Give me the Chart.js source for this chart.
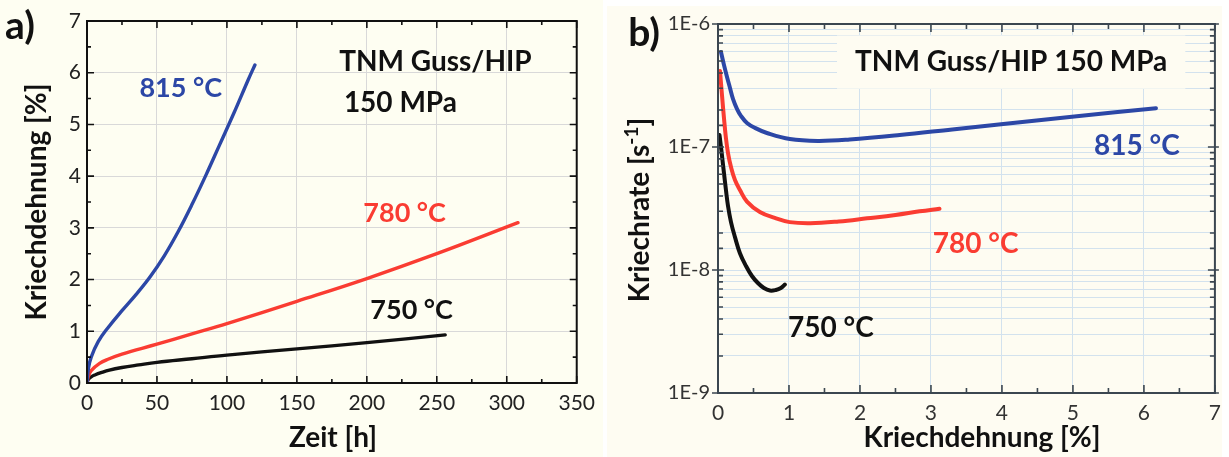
<!DOCTYPE html>
<html>
<head>
<meta charset="utf-8">
<script src="https://cdn.jsdelivr.net/npm/chart.js@4.4.1/dist/chart.umd.min.js"></script>
<style>
  html, body { margin: 0; padding: 0; background: #ffffff; width: 1229px; height: 457px; overflow: hidden; }
  .panel { position: absolute; }
  #panelA { left: 0; top: 0; width: 603px; height: 457px; background: #fefef2; }
  #panelB { left: 607px; top: 6px; width: 615px; height: 451px; background: #fefcf2; }
  canvas { position: absolute; top: 0; }
  #chartA { left: 0; }
  #chartB { left: 607px; }
</style>
</head>
<body>
<div class="panel" id="panelA"></div>
<div class="panel" id="panelB"></div>
<canvas id="chartA" width="603" height="457" style="width:603px;height:457px"></canvas>
<canvas id="chartB" width="622" height="457" style="width:622px;height:457px"></canvas>
<script>
// ---- a) Kriechkurven: Zeit [h] gegen Kriechdehnung [%] ----
const zeit815     = [0, 1, 3, 8, 15, 25, 35, 45, 55, 65, 75, 85, 95, 105, 115, 120];
const dehnung815  = [0, 0.28, 0.5, 0.8, 1.07, 1.4, 1.71, 2.05, 2.45, 2.92, 3.45, 4.02, 4.62, 5.22, 5.85, 6.15];
const zeit780     = [0, 1, 3, 9, 15, 25, 50, 75, 100, 150, 200, 250, 308];
const dehnung780  = [0, 0.13, 0.24, 0.38, 0.46, 0.56, 0.75, 0.95, 1.15, 1.58, 2.02, 2.5, 3.1];
const zeit750     = [0, 1, 3, 6, 10, 16, 25, 37, 50, 75, 100, 150, 200, 256];
const dehnung750  = [0, 0.07, 0.12, 0.16, 0.2, 0.25, 0.3, 0.35, 0.4, 0.47, 0.54, 0.66, 0.78, 0.93];

// ---- b) Kriechrate [1/s] gegen Kriechdehnung [%] ----
const eps815  = [0.042, 0.084, 0.127, 0.169, 0.211, 0.267, 0.323, 0.408, 0.52, 0.689, 1.012, 1.406, 1.855, 2.56, 3.3, 4.02, 5.02, 6.17];
const rate815 = [5.92e-7, 4.65e-7, 3.71e-7, 3.02e-7, 2.46e-7, 2.04e-7, 1.79e-7, 1.57e-7, 1.43e-7, 1.3e-7, 1.16e-7, 1.12e-7, 1.15e-7, 1.25e-7, 1.39e-7, 1.54e-7, 1.77e-7, 2.07e-7];
const eps780  = [0.028, 0.056, 0.084, 0.112, 0.141, 0.183, 0.239, 0.309, 0.408, 0.59, 0.8, 1.01, 1.3, 1.7, 2.1, 2.5, 2.84, 3.12];
const rate780 = [4.15e-7, 2.65e-7, 1.72e-7, 1.18e-7, 8.93e-8, 6.87e-8, 5.39e-8, 4.47e-8, 3.6e-8, 2.96e-8, 2.65e-8, 2.45e-8, 2.4e-8, 2.48e-8, 2.63e-8, 2.8e-8, 3.0e-8, 3.15e-8];
const eps750  = [0.021, 0.042, 0.063, 0.084, 0.112, 0.141, 0.183, 0.239, 0.309, 0.394, 0.478, 0.562, 0.647, 0.731, 0.815, 0.886, 0.942];
const rate750 = [1.25e-7, 1.0e-7, 7.84e-8, 6.15e-8, 4.47e-8, 3.31e-8, 2.45e-8, 1.85e-8, 1.37e-8, 1.08e-8, 8.94e-9, 7.84e-9, 7.14e-9, 6.81e-9, 6.88e-9, 7.14e-9, 7.62e-9];

// Temperaturen und Achsen
const temperaturen = ['815 °C', '780 °C', '750 °C'];
const zeitTicks    = { min: 0, max: 350, step: 50, minor: 25 };
const dehnungTicks = { min: 0, max: 7, step: 1, minor: 0.5 };
const rateRange    = { min: 1e-9, max: 1e-6 };

const FONT = 'Lato, "Open Sans", "DejaVu Sans", sans-serif';
const BLUE = '#2c47a6', RED = '#fa3c32', BLACK = '#111111';
const farben = [BLUE, RED, BLACK];

Chart.defaults.font.family = FONT;
Chart.defaults.animation = false;

const pairs = (xs, ys) => xs.map((x, i) => ({ x, y: ys[i] }));

// Rahmen um die Zeichenfläche
const framePlugin = {
  id: 'frame',
  afterDatasetsDraw(chart, args, o) {
    const { ctx, chartArea: a } = chart;
    ctx.save();
    ctx.strokeStyle = o.color;
    ctx.lineWidth = o.width;
    ctx.strokeRect(a.left, a.top, a.right - a.left, a.bottom - a.top);
    ctx.restore();
  }
};

// Innenliegende Teilstriche an allen vier Seiten
const tickPlugin = {
  id: 'tickMarks',
  afterDatasetsDraw(chart, args, o) {
    const { ctx, chartArea: a, scales } = chart;
    const xs = scales.x, ys = scales.y;
    ctx.save();
    ctx.strokeStyle = o.color;
    ctx.lineWidth = o.width;
    ctx.beginPath();
    const n = Math.round((xs.max - xs.min) / o.xMinor);
    for (let i = 0; i <= n; i++) {
      const v = xs.min + i * o.xMinor;
      const r = v / o.xMajor;
      const major = Math.abs(r - Math.round(r)) < 1e-6;
      const len = major ? o.majorLen : o.minorLen;
      const px = xs.getPixelForValue(v);
      ctx.moveTo(px, a.bottom); ctx.lineTo(px, a.bottom - len);
      ctx.moveTo(px, a.top); ctx.lineTo(px, a.top + len);
    }
    if (ys.type === 'logarithmic') {
      ys.ticks.forEach(t => {
        const e = Math.log10(t.value);
        const major = Math.abs(e - Math.round(e)) < 1e-6;
        const py = ys.getPixelForValue(t.value);
        if (major) {
          ctx.moveTo(a.left - 6, py); ctx.lineTo(a.left + 6, py);
          ctx.moveTo(a.right - 7, py); ctx.lineTo(a.right + 4, py);
        } else {
          ctx.moveTo(a.left, py); ctx.lineTo(a.left + o.minorLen, py);
          ctx.moveTo(a.right, py); ctx.lineTo(a.right - o.minorLen, py);
        }
      });
    } else {
      const m = Math.round((ys.max - ys.min) / o.yMinor);
      for (let i = 0; i <= m; i++) {
        const v = ys.min + i * o.yMinor;
        const r = v / o.yMajor;
        const major = Math.abs(r - Math.round(r)) < 1e-6;
        const len = major ? o.majorLen : o.minorLen;
        const py = ys.getPixelForValue(v);
        ctx.moveTo(a.left, py); ctx.lineTo(a.left + len, py);
        ctx.moveTo(a.right, py); ctx.lineTo(a.right - len, py);
      }
    }
    ctx.stroke();
    ctx.restore();
  }
};

// Beschriftungen im Diagramm (Position in Datenkoordinaten)
const notesPlugin = {
  id: 'notes',
  afterDatasetsDraw(chart, args, o) {
    const { ctx, scales } = chart;
    ctx.save();
    ctx.textAlign = 'center';
    ctx.textBaseline = 'middle';
    (o.items || []).forEach(t => {
      const px = scales.x.getPixelForValue(t.x);
      const py = scales.y.getPixelForValue(t.y);
      ctx.font = `bold ${t.size}px ${FONT}`;
      if (t.box) {
        const w = ctx.measureText(t.text).width;
        ctx.fillStyle = t.box;
        ctx.fillRect(px - w / 2 - 18, py - t.size * 0.95, w + 36, t.size * 1.9);
      }
      ctx.fillStyle = t.color;
      ctx.fillText(t.text, px, py);
    });
    ctx.restore();
  }
};

// Achsentitel und Teilbild-Kennung (Leinwandkoordinaten)
const titlesPlugin = {
  id: 'titles',
  afterDraw(chart, args, o) {
    const { ctx } = chart;
    (o.items || []).forEach(t => {
      ctx.save();
      ctx.translate(t.x, t.y);
      if (t.rotate) ctx.rotate(-Math.PI / 2);
      ctx.fillStyle = t.color || '#111';
      ctx.textBaseline = 'middle';
      ctx.textAlign = 'left';
      const main = `bold ${t.size}px ${FONT}`;
      const sup = `bold ${Math.round(t.size * 0.68)}px ${FONT}`;
      ctx.font = main;
      const w1 = ctx.measureText(t.text).width;
      let w2 = 0, w3 = 0;
      if (t.sup) {
        ctx.font = sup; w2 = ctx.measureText(t.sup).width;
        ctx.font = main; w3 = ctx.measureText(t.after).width;
      }
      const x0 = -(w1 + w2 + w3) / 2;
      ctx.font = main;
      ctx.fillText(t.text, x0, 0);
      if (t.sup) {
        ctx.font = sup;
        ctx.fillText(t.sup, x0 + w1, -t.size * 0.3);
        ctx.font = main;
        ctx.fillText(t.after, x0 + w1 + w2, 0);
      }
      ctx.restore();
    });
  }
};

const lineDefaults = { pointRadius: 0, tension: 0.4, borderCapStyle: 'round', borderJoinStyle: 'round', fill: false };

// ---------- Diagramm a) ----------
new Chart(document.getElementById('chartA'), {
  type: 'line',
  data: {
    datasets: [
      { label: temperaturen[0], data: pairs(zeit815, dehnung815), borderColor: farben[0], borderWidth: 3.4, ...lineDefaults },
      { label: temperaturen[1], data: pairs(zeit780, dehnung780), borderColor: farben[1], borderWidth: 3.4, ...lineDefaults },
      { label: temperaturen[2], data: pairs(zeit750, dehnung750), borderColor: farben[2], borderWidth: 3.4, ...lineDefaults }
    ]
  },
  options: {
    responsive: false,
    animation: false,
    layout: { padding: { left: 0, right: 25, top: 21, bottom: 0 } },
    plugins: {
      legend: { display: false },
      tooltip: { enabled: false },
      frame: { color: '#111', width: 2 },
      tickMarks: { color: '#111', width: 1.6, xMajor: zeitTicks.step, xMinor: zeitTicks.minor, yMajor: dehnungTicks.step, yMinor: dehnungTicks.minor, majorLen: 7, minorLen: 4 },
      notes: { items: [
        { text: temperaturen[0], x: 67, y: 5.7, size: 27, color: BLUE },
        { text: temperaturen[1], x: 227, y: 3.29, size: 27, color: RED },
        { text: temperaturen[2], x: 232, y: 1.41, size: 27, color: BLACK },
        { text: 'TNM Guss/HIP', x: 249, y: 6.2, size: 28, color: BLACK },
        { text: '150 MPa', x: 224, y: 5.42, size: 28, color: BLACK }
      ] },
      titles: { items: [
        { text: 'Kriechdehnung [%]', x: 37, y: 202, size: 28, rotate: true },
        { text: 'Zeit [h]', x: 333, y: 438, size: 28 },
        { text: 'a)', x: 20, y: 26, size: 39 }
      ] }
    },
    scales: {
      x: {
        type: 'linear', min: zeitTicks.min, max: zeitTicks.max,
        ticks: { stepSize: zeitTicks.step, color: '#222', font: { size: 21 }, padding: 8, maxRotation: 0 },
        grid: { color: '#d9d9d9', lineWidth: 1, drawTicks: false },
        border: { display: false },
        afterFit(s) { s.height = 74; }
      },
      y: {
        type: 'linear', min: dehnungTicks.min, max: dehnungTicks.max,
        ticks: { stepSize: dehnungTicks.step, color: '#222', font: { size: 21 }, padding: 6 },
        grid: { color: '#d9d9d9', lineWidth: 1, drawTicks: false },
        border: { display: false },
        afterFit(s) { s.width = 87; }
      }
    }
  },
  plugins: [framePlugin, tickPlugin, notesPlugin, titlesPlugin]
});

// ---------- Diagramm b) ----------
new Chart(document.getElementById('chartB'), {
  type: 'line',
  data: {
    datasets: [
      { label: temperaturen[0], data: pairs(eps815, rate815), borderColor: farben[0], borderWidth: 4, ...lineDefaults },
      { label: temperaturen[1], data: pairs(eps780, rate780), borderColor: farben[1], borderWidth: 4, ...lineDefaults },
      { label: temperaturen[2], data: pairs(eps750, rate750), borderColor: farben[2], borderWidth: 4, ...lineDefaults }
    ]
  },
  options: {
    responsive: false,
    animation: false,
    layout: { padding: { left: 0, right: 12, top: 24, bottom: 0 } },
    plugins: {
      legend: { display: false },
      tooltip: { enabled: false },
      frame: { color: '#3b4650', width: 2 },
      tickMarks: { color: '#3b4650', width: 1.6, xMajor: dehnungTicks.step, xMinor: dehnungTicks.minor, majorLen: 8, minorLen: 5 },
      notes: { items: [
        { text: 'TNM Guss/HIP 150 MPa', x: 4.13, y: 4.9e-7, size: 28, color: BLACK, box: '#fefcf2' },
        { text: temperaturen[0], x: 5.9, y: 1.02e-7, size: 28, color: BLUE },
        { text: temperaturen[1], x: 3.63, y: 1.62e-8, size: 28, color: RED },
        { text: temperaturen[2], x: 1.59, y: 3.4e-9, size: 28, color: BLACK }
      ] },
      titles: { items: [
        { text: 'Kriechrate [s', sup: '-1', after: ']', x: 33, y: 210, size: 28, rotate: true },
        { text: 'Kriechdehnung [%]', x: 375, y: 438, size: 28 },
        { text: 'b)', x: 37, y: 33, size: 39 }
      ] }
    },
    scales: {
      x: {
        type: 'linear', min: dehnungTicks.min, max: dehnungTicks.max,
        ticks: { stepSize: dehnungTicks.step, color: '#333', font: { size: 21 }, padding: 8, maxRotation: 0 },
        grid: { color: '#d3e2ee', lineWidth: 1, drawTicks: false },
        border: { display: false },
        afterFit(s) { s.height = 64; }
      },
      y: {
        type: 'logarithmic', min: rateRange.min, max: rateRange.max,
        ticks: {
          autoSkip: false, color: '#333', font: { size: 20 }, padding: 8,
          callback(v) {
            const e = Math.log10(v);
            return Math.abs(e - Math.round(e)) < 1e-6 ? '1E' + Math.round(e) : '';
          }
        },
        grid: { color: '#d3e2ee', lineWidth: 1, drawTicks: false },
        border: { display: false },
        afterFit(s) { s.width = 111; }
      }
    }
  },
  plugins: [framePlugin, tickPlugin, notesPlugin, titlesPlugin]
});
</script>
</body>
</html>
